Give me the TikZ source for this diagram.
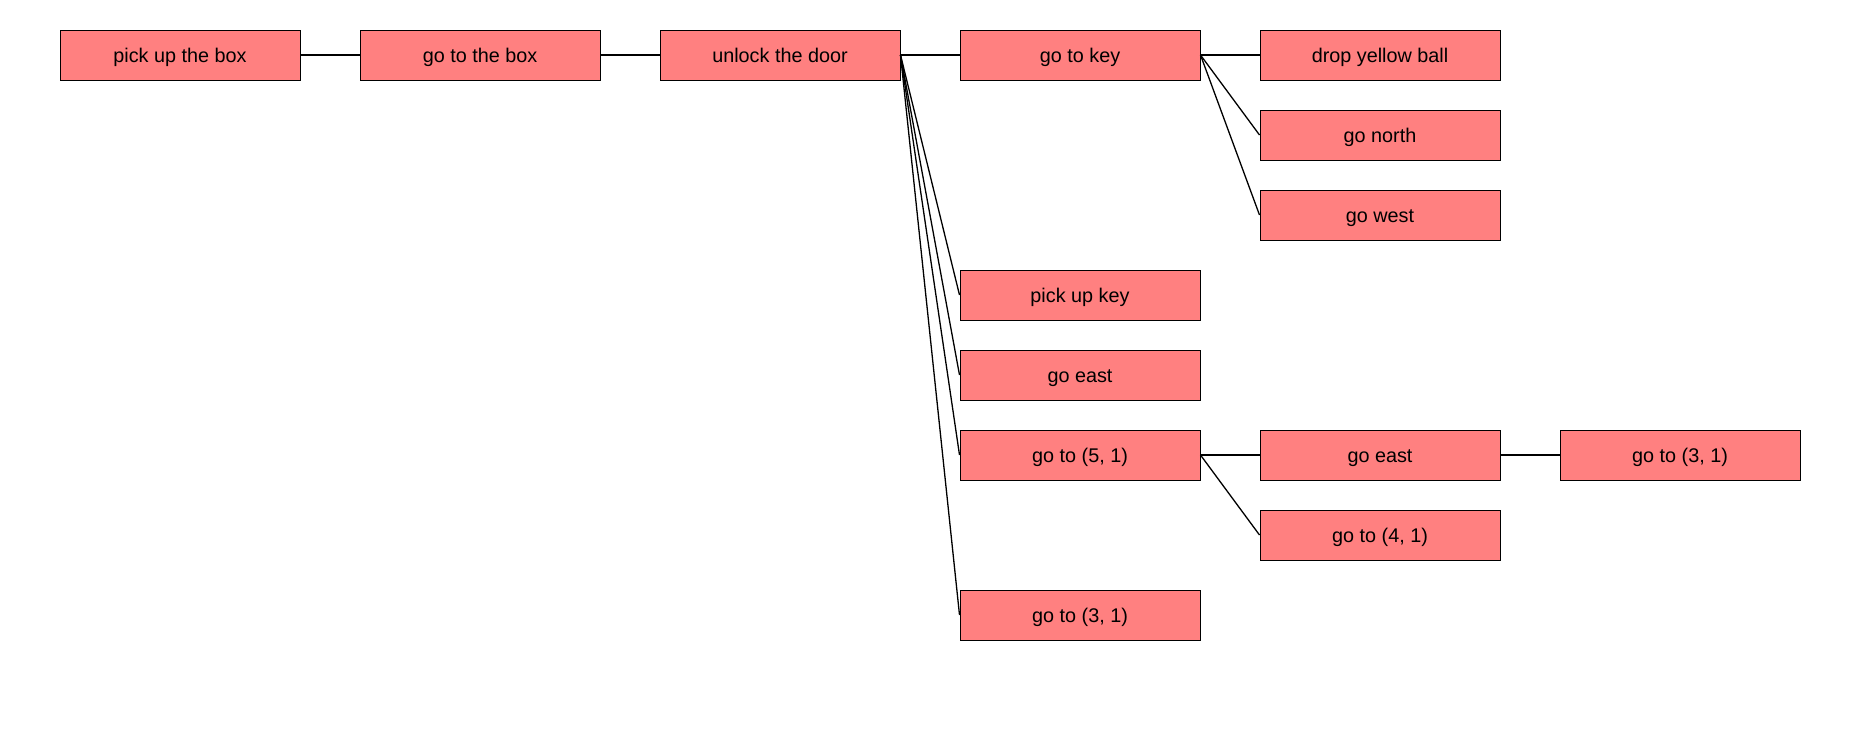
\documentclass[tikz,border=0pt]{standalone}
\usepackage{fontspec}
\setmainfont{Liberation Sans}
\definecolor{boxfill}{RGB}{255,128,128}
\begin{document}
\begin{tikzpicture}[x=1pt,y=-1pt,
  tbox/.style={draw=black,line width=1pt,fill=boxfill,minimum width=240pt,minimum height=50pt,inner sep=0pt,text height=16pt,text depth=2pt,font=\fontsize{19.8}{22}\selectfont},
  edge/.style={draw=black,line width=1.3pt}]
\useasboundingbox (0,0) rectangle (1860,750);
\node[tbox] (n1) at (180,55) {pick up the box};
\node[tbox] (n2) at (480,55) {go to the box};
\node[tbox] (n3) at (780,55) {unlock the door};
\node[tbox] (n4) at (1080,55) {go to key};
\node[tbox] (n5) at (1380,55) {drop yellow ball};
\node[tbox] (n6) at (1380,135) {go north};
\node[tbox] (n7) at (1380,215) {go west};
\node[tbox] (n8) at (1080,295) {pick up key};
\node[tbox] (n9) at (1080,375) {go east};
\node[tbox] (n10) at (1080,455) {go to (5, 1)};
\node[tbox] (n11) at (1380,455) {go east};
\node[tbox] (n12) at (1680,455) {go to (3, 1)};
\node[tbox] (n13) at (1380,535) {go to (4, 1)};
\node[tbox] (n14) at (1080,615) {go to (3, 1)};
\draw[edge] (n1.east) -- (n2.west);
\draw[edge] (n2.east) -- (n3.west);
\draw[edge] (n3.east) -- (n4.west);
\draw[edge] (n4.east) -- (n5.west);
\draw[edge] (n4.east) -- (n6.west);
\draw[edge] (n4.east) -- (n7.west);
\draw[edge] (n3.east) -- (n8.west);
\draw[edge] (n3.east) -- (n9.west);
\draw[edge] (n3.east) -- (n10.west);
\draw[edge] (n3.east) -- (n14.west);
\draw[edge] (n10.east) -- (n11.west);
\draw[edge] (n10.east) -- (n13.west);
\draw[edge] (n11.east) -- (n12.west);
\end{tikzpicture}
\end{document}
